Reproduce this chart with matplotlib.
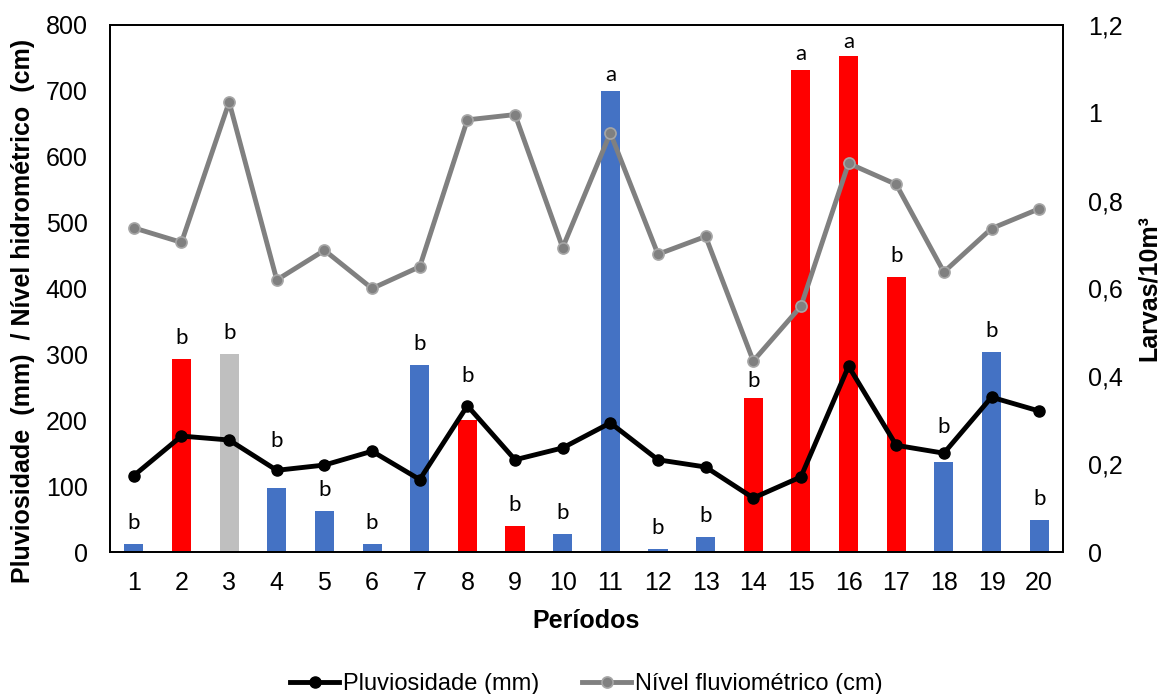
import matplotlib.pyplot as plt
import matplotlib as mpl
from matplotlib.ticker import FuncFormatter

mpl.rcParams["font.family"] = ["Liberation Sans", "DejaVu Sans"]

periodos = list(range(1, 21))
larvas = [0.018, 0.44, 0.45, 0.145, 0.093, 0.018, 0.425, 0.30, 0.06, 0.042,
          1.05, 0.007, 0.034, 0.35, 1.097, 1.13, 0.627, 0.204, 0.456, 0.073]
letras = ["b", "b", "b", "b", "b", "b", "b", "b", "b", "b",
          "a", "b", "b", "b", "a", "a", "b", "b", "b", "b"]
grupo = ["azul", "verm", "cinza", "azul", "azul", "azul", "azul", "verm", "verm", "azul",
         "azul", "azul", "azul", "verm", "verm", "verm", "verm", "azul", "azul", "azul"]
pluviosidade = [116, 176, 170, 124, 132, 153, 110, 222, 140, 158,
                196, 140, 129, 82, 114, 282, 162, 150, 235, 214]
nivel = [492, 470, 683, 413, 458, 400, 433, 656, 664, 462,
         636, 452, 479, 290, 373, 590, 558, 425, 491, 521]

cores = {"azul": "#4472C4", "verm": "#FF0000", "cinza": "#BFBFBF"}
# letter offset above bar top in pixels (some lifted clear of the lines)
desvio = {4: 47, 8: 44, 18: 35, 11: 16, 14: 17, 15: 16, 16: 14}

fig = plt.figure(figsize=(11.63, 6.94), dpi=100)
ax = fig.add_axes([0.0946, 0.2046, 0.8194, 0.7594])
ax2 = ax.twinx()

# bars on the right axis (larvas)
ax2.bar(periodos, larvas, width=0.4, color=[cores[g] for g in grupo], zorder=2)
ax2.set_ylim(0, 1.2)
ax2.set_yticks([0, 0.2, 0.4, 0.6, 0.8, 1.0, 1.2])
ax2.yaxis.set_major_formatter(FuncFormatter(lambda v, p: f"{v:g}".replace(".", ",")))
ax2.set_ylabel("Larvas/10m³", fontsize=18, fontweight="bold", labelpad=10)

# lines on the left axis
ax.set_zorder(ax2.get_zorder() + 1)
ax.patch.set_visible(False)
ax.plot(periodos, pluviosidade, color="black", lw=3.5, marker="o", ms=8,
        label="Pluviosidade (mm)", zorder=4)
ax.plot(periodos, nivel, color="#808080", lw=3.5, marker="o", ms=8,
        mfc="#808080", mec="#A6A6A6", mew=1.2, label="Nível fluviométrico (cm)", zorder=3)

for x, y, l in zip(periodos, larvas, letras):
    ax.annotate(l, (x, y), xycoords=ax2.transData,
                xytext=(0, desvio.get(x, 21) * 0.72), textcoords="offset points",
                ha="center", va="center", fontsize=16, family="Lato", zorder=5)

ax.set_xlim(0.5, 20.5)
ax.set_ylim(0, 800)
ax.set_xticks(periodos)
ax.set_yticks(range(0, 801, 100))
ax.set_xlabel("Períodos", fontsize=18, fontweight="bold", labelpad=10)
ax.set_ylabel("Pluviosidade  (mm)  / Nível hidrométrico  (cm)", fontsize=18,
              fontweight="bold")
ax.yaxis.set_label_coords(-0.079, 0.457)

ax.tick_params(axis="y", length=0, labelsize=18, pad=16)
ax.tick_params(axis="x", length=0, labelsize=18, pad=14)
ax2.tick_params(length=0, labelsize=18, pad=18)
for a in (ax, ax2):
    for s in a.spines.values():
        s.set_linewidth(1.3)
        s.set_color("black")

fig.legend(loc="center", ncol=2, bbox_to_anchor=(0.504, 0.014), frameon=False,
           fontsize=17, handlelength=2.1, columnspacing=1.8, handletextpad=0.15)

fig.savefig("out.png", dpi=100)
